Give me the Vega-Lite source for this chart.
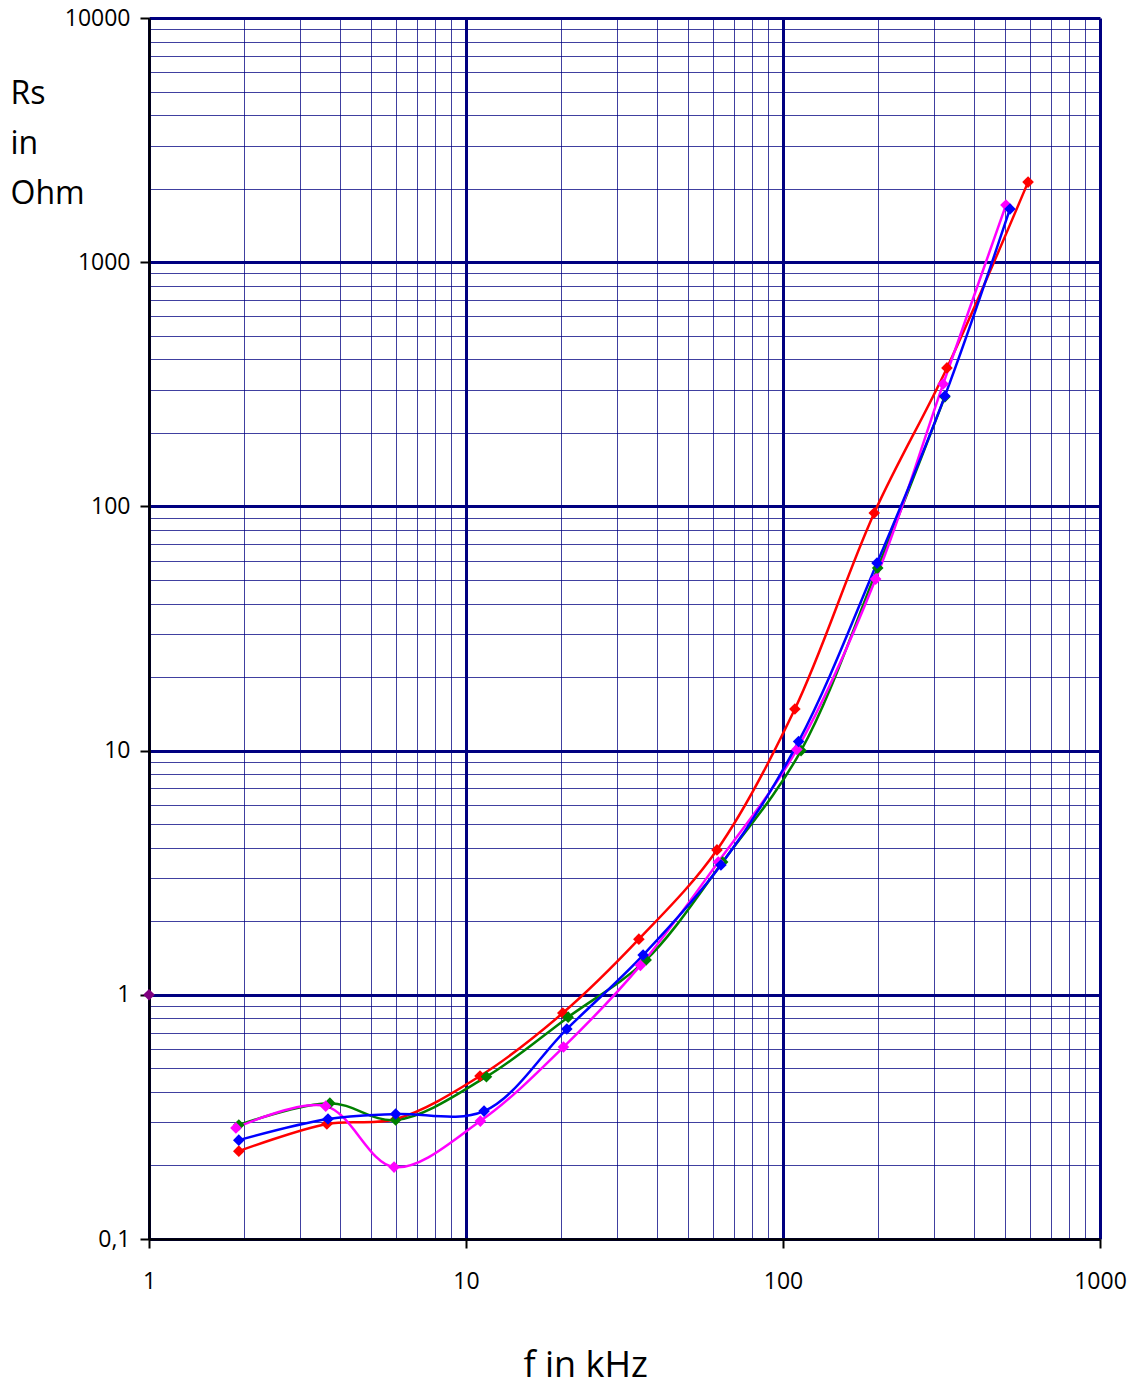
{
  "$schema": "https://vega.github.io/schema/vega-lite/v6.json",
  "width": 951,
  "height": 1221,
  "autosize": {"type": "none"},
  "padding": {"left": 149, "top": 18, "right": 43, "bottom": 147},
  "background": "white",
  "config": {
    "view": {"stroke": null},
    "font": "Open Sans"
  },
  "data": {
    "values": [
      {"s": "red", "f": 1.92, "r": 0.229},
      {"s": "red", "f": 3.64, "r": 0.296},
      {"s": "red", "f": 6.01, "r": 0.31},
      {"s": "red", "f": 11.07, "r": 0.465},
      {"s": "red", "f": 20.2, "r": 0.842},
      {"s": "red", "f": 35.1, "r": 1.69},
      {"s": "red", "f": 61.9, "r": 3.92},
      {"s": "red", "f": 109, "r": 14.8},
      {"s": "red", "f": 194, "r": 94},
      {"s": "red", "f": 329, "r": 369},
      {"s": "red", "f": 593, "r": 2128},
      {"s": "green", "f": 1.92, "r": 0.293},
      {"s": "green", "f": 3.72, "r": 0.36},
      {"s": "green", "f": 6.0, "r": 0.307},
      {"s": "green", "f": 11.6, "r": 0.462},
      {"s": "green", "f": 21.0, "r": 0.81},
      {"s": "green", "f": 37.0, "r": 1.39},
      {"s": "green", "f": 64.5, "r": 3.5},
      {"s": "green", "f": 114, "r": 10.0},
      {"s": "green", "f": 199, "r": 56},
      {"s": "green", "f": 324, "r": 281},
      {"s": "magenta", "f": 1.88, "r": 0.285},
      {"s": "magenta", "f": 3.61, "r": 0.35},
      {"s": "magenta", "f": 5.93, "r": 0.197},
      {"s": "magenta", "f": 11.1, "r": 0.304},
      {"s": "magenta", "f": 20.3, "r": 0.611},
      {"s": "magenta", "f": 35.5, "r": 1.32},
      {"s": "magenta", "f": 62.5, "r": 3.5},
      {"s": "magenta", "f": 110.6, "r": 10.1},
      {"s": "magenta", "f": 196, "r": 50.4},
      {"s": "magenta", "f": 320, "r": 317},
      {"s": "magenta", "f": 505, "r": 1713},
      {"s": "blue", "f": 1.92, "r": 0.254},
      {"s": "blue", "f": 3.67, "r": 0.31},
      {"s": "blue", "f": 6.0, "r": 0.325},
      {"s": "blue", "f": 11.4, "r": 0.334},
      {"s": "blue", "f": 20.8, "r": 0.724},
      {"s": "blue", "f": 36.2, "r": 1.455},
      {"s": "blue", "f": 63.7, "r": 3.4},
      {"s": "blue", "f": 112, "r": 10.9},
      {"s": "blue", "f": 198, "r": 58.6},
      {"s": "blue", "f": 324, "r": 283},
      {"s": "blue", "f": 520, "r": 1652},
      {"s": "purple", "f": 1, "r": 1}
    ]
  },
  "encoding": {
    "x": {
      "field": "f",
      "type": "quantitative",
      "scale": {"type": "log", "domain": [1, 1000], "nice": false},
      "axis": {
        "orient": "bottom",
        "values": [1,2,3,4,5,6,7,8,9,10,20,30,40,50,60,70,80,90,100,200,300,400,500,600,700,800,900,1000],
        "labelExpr": "abs(log(datum.value)/LN10 - round(log(datum.value)/LN10)) < 0.001 ? format(datum.value, 'd') : ''",
        "labelFont": "Open Sans",
        "labelFontSize": 23,
        "labelColor": "black",
        "labelFlush": false,
        "labelOverlap": false,
        "labelBound": false,
        "labelPadding": 22,
        "labelBaseline": "top",
        "domain": true,
        "domainColor": "black",
        "domainWidth": 2.5,
        "ticks": true,
        "tickColor": "black",
        "tickWidth": 2,
        "tickSize": 9,
        "tickOpacity": {"condition": {"test": "abs(log(datum.value)/LN10 - round(log(datum.value)/LN10)) < 0.001", "value": 1}, "value": 0},
        "grid": true,
        "gridColor": "#000080",
        "gridOpacity": {"condition": {"test": "abs(log(datum.value)/LN10 - round(log(datum.value)/LN10)) < 0.001", "value": 1}, "value": 0.75},
        "gridWidth": {"condition": {"test": "abs(log(datum.value)/LN10 - round(log(datum.value)/LN10)) < 0.001", "value": 3}, "value": 1},
        "title": "f in kHz",
        "titleFont": "Open Sans",
        "titleFontSize": 36,
        "titleFontWeight": "normal",
        "titleColor": "black",
        "titleAnchor": "start",
        "titleAlign": "left",
        "titleBaseline": "alphabetic",
        "titleX": 374,
        "titleY": 137
      }
    },
    "y": {
      "field": "r",
      "type": "quantitative",
      "scale": {"type": "log", "domain": [0.1, 10000], "nice": false},
      "axis": {
        "orient": "left",
        "values": [0.1,0.2,0.3,0.4,0.5,0.6,0.7,0.8,0.9,1,2,3,4,5,6,7,8,9,10,20,30,40,50,60,70,80,90,100,200,300,400,500,600,700,800,900,1000,2000,3000,4000,5000,6000,7000,8000,9000,10000],
        "labelExpr": "abs(log(datum.value)/LN10 - round(log(datum.value)/LN10)) < 0.001 ? (datum.value < 0.5 ? '0,1' : format(datum.value, 'd')) : ''",
        "labelFont": "Open Sans",
        "labelFontSize": 23,
        "labelColor": "black",
        "labelFlush": false,
        "labelOverlap": false,
        "labelBound": false,
        "labelPadding": 10,
        "labelBaseline": "middle",
        "domain": true,
        "domainColor": "black",
        "domainWidth": 2.5,
        "ticks": true,
        "tickColor": "black",
        "tickWidth": 2,
        "tickSize": 9,
        "tickOpacity": {"condition": {"test": "abs(log(datum.value)/LN10 - round(log(datum.value)/LN10)) < 0.001", "value": 1}, "value": 0},
        "grid": true,
        "gridColor": "#000080",
        "gridOpacity": {"condition": {"test": "abs(log(datum.value)/LN10 - round(log(datum.value)/LN10)) < 0.001", "value": 1}, "value": 0.75},
        "gridWidth": {"condition": {"test": "abs(log(datum.value)/LN10 - round(log(datum.value)/LN10)) < 0.001", "value": 3}, "value": 1},
        "title": ["Rs", "in", "Ohm"],
        "titleFont": "Open Sans",
        "titleFontSize": 32,
        "titleFontWeight": "normal",
        "titleColor": "black",
        "titleAngle": 0,
        "titleAnchor": "start",
        "titleAlign": "left",
        "titleBaseline": "alphabetic",
        "titleLineHeight": 50,
        "titleX": -139,
        "titleY": 85
      }
    },
    "color": {
      "field": "s",
      "type": "nominal",
      "scale": {
        "domain": ["red", "green", "magenta", "blue", "purple"],
        "range": ["#ff0000", "#008000", "#ff00ff", "#0000ff", "#800080"]
      },
      "legend": null
    }
  },
  "layer": [
    {
      "mark": {"type": "line", "interpolate": "catmull-rom", "strokeWidth": 2.5, "clip": false}
    },
    {
      "mark": {"type": "point", "shape": "diamond", "filled": true, "size": 135, "opacity": 1, "clip": false}
    }
  ]
}
